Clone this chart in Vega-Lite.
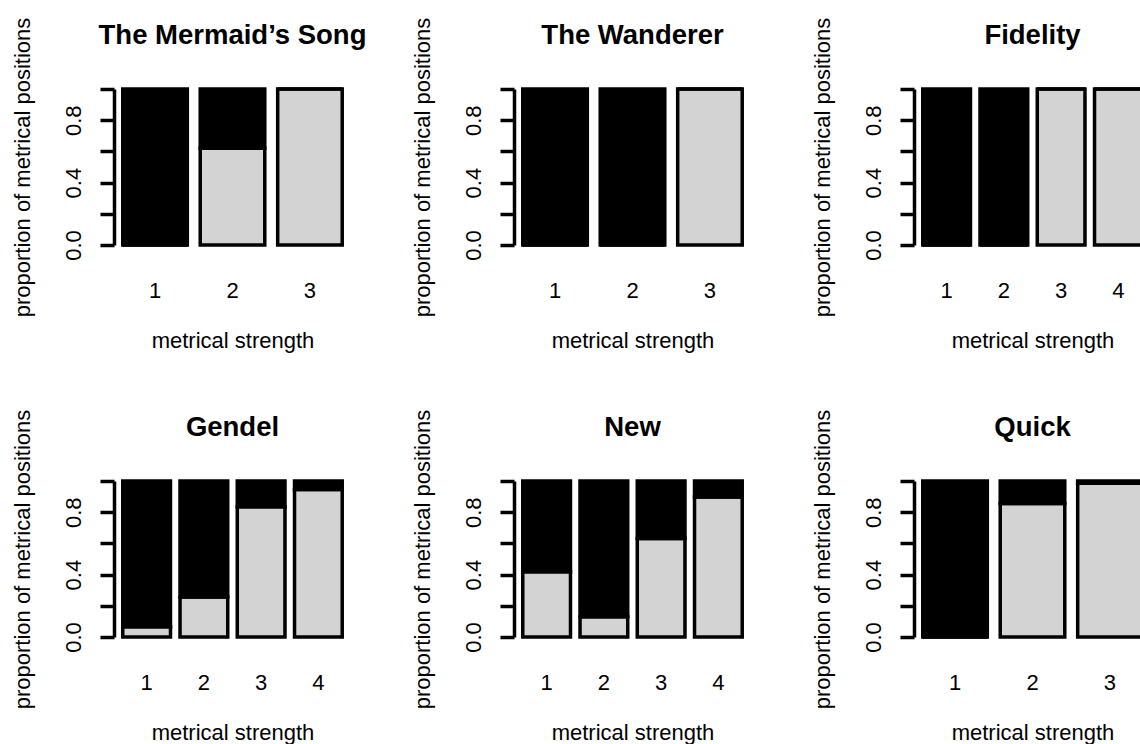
{
  "$schema": "https://vega.github.io/schema/vega-lite/v6.json",
  "autosize": {"type": "none"},
  "padding": {"left": 114, "top": 89, "right": 1026, "bottom": 655},
  "background": "white",
  "columns": 3,
  "bounds": "flush",
  "spacing": {"row": 236, "column": 163},
  "config": {
    "font": "Liberation Sans",
    "view": {"stroke": null},
    "title": {"fontSize": 27.5, "fontWeight": "bold", "color": "#000000", "anchor": "middle", "frame": "group", "baseline": "alphabetic", "offset": 42, "dy": 74},
    "axis": {"labelColor": "#000000", "titleColor": "#000000", "labelFontSize": 22, "titleFontSize": 22, "titleFontWeight": "normal", "grid": false}
  },
  "data": {"values": [
    {"song": "The Mermaid’s Song", "strength": "1", "group": "A", "prop": 0.0},
    {"song": "The Mermaid’s Song", "strength": "1", "group": "B", "prop": 1.0},
    {"song": "The Mermaid’s Song", "strength": "2", "group": "A", "prop": 0.62},
    {"song": "The Mermaid’s Song", "strength": "2", "group": "B", "prop": 0.38},
    {"song": "The Mermaid’s Song", "strength": "3", "group": "A", "prop": 1.0},
    {"song": "The Mermaid’s Song", "strength": "3", "group": "B", "prop": 0.0},
    {"song": "The Wanderer", "strength": "1", "group": "A", "prop": 0.0},
    {"song": "The Wanderer", "strength": "1", "group": "B", "prop": 1.0},
    {"song": "The Wanderer", "strength": "2", "group": "A", "prop": 0.0},
    {"song": "The Wanderer", "strength": "2", "group": "B", "prop": 1.0},
    {"song": "The Wanderer", "strength": "3", "group": "A", "prop": 1.0},
    {"song": "The Wanderer", "strength": "3", "group": "B", "prop": 0.0},
    {"song": "Fidelity", "strength": "1", "group": "A", "prop": 0.0},
    {"song": "Fidelity", "strength": "1", "group": "B", "prop": 1.0},
    {"song": "Fidelity", "strength": "2", "group": "A", "prop": 0.0},
    {"song": "Fidelity", "strength": "2", "group": "B", "prop": 1.0},
    {"song": "Fidelity", "strength": "3", "group": "A", "prop": 1.0},
    {"song": "Fidelity", "strength": "3", "group": "B", "prop": 0.0},
    {"song": "Fidelity", "strength": "4", "group": "A", "prop": 1.0},
    {"song": "Fidelity", "strength": "4", "group": "B", "prop": 0.0},
    {"song": "Gendel", "strength": "1", "group": "A", "prop": 0.065},
    {"song": "Gendel", "strength": "1", "group": "B", "prop": 0.935},
    {"song": "Gendel", "strength": "2", "group": "A", "prop": 0.257},
    {"song": "Gendel", "strength": "2", "group": "B", "prop": 0.743},
    {"song": "Gendel", "strength": "3", "group": "A", "prop": 0.835},
    {"song": "Gendel", "strength": "3", "group": "B", "prop": 0.165},
    {"song": "Gendel", "strength": "4", "group": "A", "prop": 0.945},
    {"song": "Gendel", "strength": "4", "group": "B", "prop": 0.055},
    {"song": "New", "strength": "1", "group": "A", "prop": 0.418},
    {"song": "New", "strength": "1", "group": "B", "prop": 0.582},
    {"song": "New", "strength": "2", "group": "A", "prop": 0.13},
    {"song": "New", "strength": "2", "group": "B", "prop": 0.87},
    {"song": "New", "strength": "3", "group": "A", "prop": 0.632},
    {"song": "New", "strength": "3", "group": "B", "prop": 0.368},
    {"song": "New", "strength": "4", "group": "A", "prop": 0.897},
    {"song": "New", "strength": "4", "group": "B", "prop": 0.103},
    {"song": "Quick", "strength": "1", "group": "A", "prop": 0.0},
    {"song": "Quick", "strength": "1", "group": "B", "prop": 1.0},
    {"song": "Quick", "strength": "2", "group": "A", "prop": 0.856},
    {"song": "Quick", "strength": "2", "group": "B", "prop": 0.144},
    {"song": "Quick", "strength": "3", "group": "A", "prop": 0.985},
    {"song": "Quick", "strength": "3", "group": "B", "prop": 0.015}
  ]},
  "concat": [
    {
      "title": "The Mermaid’s Song",
      "width": 237, "height": 156,
      "transform": [{"filter": {"field": "song", "equal": "The Mermaid’s Song"}}],
      "mark": {"type": "bar", "stroke": "#000000", "strokeWidth": 3.5},
      "encoding": {
        "x": {"field": "strength", "type": "nominal", "sort": "ascending", "scale": {"paddingInner": 0.1667, "paddingOuter": 0.1133}, "axis": {"domain": false, "ticks": false, "tickSize": 0, "labelAngle": 0, "labelPadding": 35, "title": "metrical strength", "titlePadding": 29}},
        "y": {"field": "prop", "type": "quantitative", "stack": "zero", "scale": {"domain": [0, 1], "nice": false}, "axis": {"values": [0, 0.2, 0.4, 0.6, 0.8, 1], "labelExpr": "(abs(datum.value) < 0.01 || abs(datum.value - 0.4) < 0.01 || abs(datum.value - 0.8) < 0.01) ? format(datum.value, '.1f') : ''", "domain": true, "domainColor": "#000000", "domainWidth": 3.5, "tickColor": "#000000", "tickWidth": 3.5, "tickSize": 14, "labelAngle": 270, "labelPadding": 15, "labelFlush": false, "labelOverlap": false, "title": "proportion of metrical positions", "titlePadding": 28}},
        "color": {"field": "group", "type": "nominal", "scale": {"domain": ["A", "B"], "range": ["#d3d3d3", "#000000"]}, "legend": null},
        "order": {"field": "group", "sort": "ascending"}
      }
    },
    {
      "title": "The Wanderer",
      "width": 237, "height": 156,
      "transform": [{"filter": {"field": "song", "equal": "The Wanderer"}}],
      "mark": {"type": "bar", "stroke": "#000000", "strokeWidth": 3.5},
      "encoding": {
        "x": {"field": "strength", "type": "nominal", "sort": "ascending", "scale": {"paddingInner": 0.1667, "paddingOuter": 0.1133}, "axis": {"domain": false, "ticks": false, "tickSize": 0, "labelAngle": 0, "labelPadding": 35, "title": "metrical strength", "titlePadding": 29}},
        "y": {"field": "prop", "type": "quantitative", "stack": "zero", "scale": {"domain": [0, 1], "nice": false}, "axis": {"values": [0, 0.2, 0.4, 0.6, 0.8, 1], "labelExpr": "(abs(datum.value) < 0.01 || abs(datum.value - 0.4) < 0.01 || abs(datum.value - 0.8) < 0.01) ? format(datum.value, '.1f') : ''", "domain": true, "domainColor": "#000000", "domainWidth": 3.5, "tickColor": "#000000", "tickWidth": 3.5, "tickSize": 14, "labelAngle": 270, "labelPadding": 15, "labelFlush": false, "labelOverlap": false, "title": "proportion of metrical positions", "titlePadding": 28}},
        "color": {"field": "group", "type": "nominal", "scale": {"domain": ["A", "B"], "range": ["#d3d3d3", "#000000"]}, "legend": null},
        "order": {"field": "group", "sort": "ascending"}
      }
    },
    {
      "title": "Fidelity",
      "width": 237, "height": 156,
      "transform": [{"filter": {"field": "song", "equal": "Fidelity"}}],
      "mark": {"type": "bar", "stroke": "#000000", "strokeWidth": 3.5},
      "encoding": {
        "x": {"field": "strength", "type": "nominal", "sort": "ascending", "scale": {"paddingInner": 0.1667, "paddingOuter": 0.1533}, "axis": {"domain": false, "ticks": false, "tickSize": 0, "labelAngle": 0, "labelPadding": 35, "title": "metrical strength", "titlePadding": 29}},
        "y": {"field": "prop", "type": "quantitative", "stack": "zero", "scale": {"domain": [0, 1], "nice": false}, "axis": {"values": [0, 0.2, 0.4, 0.6, 0.8, 1], "labelExpr": "(abs(datum.value) < 0.01 || abs(datum.value - 0.4) < 0.01 || abs(datum.value - 0.8) < 0.01) ? format(datum.value, '.1f') : ''", "domain": true, "domainColor": "#000000", "domainWidth": 3.5, "tickColor": "#000000", "tickWidth": 3.5, "tickSize": 14, "labelAngle": 270, "labelPadding": 15, "labelFlush": false, "labelOverlap": false, "title": "proportion of metrical positions", "titlePadding": 28}},
        "color": {"field": "group", "type": "nominal", "scale": {"domain": ["A", "B"], "range": ["#d3d3d3", "#000000"]}, "legend": null},
        "order": {"field": "group", "sort": "ascending"}
      }
    },
    {
      "title": "Gendel",
      "width": 237, "height": 156,
      "transform": [{"filter": {"field": "song", "equal": "Gendel"}}],
      "mark": {"type": "bar", "stroke": "#000000", "strokeWidth": 3.5},
      "encoding": {
        "x": {"field": "strength", "type": "nominal", "sort": "ascending", "scale": {"paddingInner": 0.1667, "paddingOuter": 0.1533}, "axis": {"domain": false, "ticks": false, "tickSize": 0, "labelAngle": 0, "labelPadding": 35, "title": "metrical strength", "titlePadding": 29}},
        "y": {"field": "prop", "type": "quantitative", "stack": "zero", "scale": {"domain": [0, 1], "nice": false}, "axis": {"values": [0, 0.2, 0.4, 0.6, 0.8, 1], "labelExpr": "(abs(datum.value) < 0.01 || abs(datum.value - 0.4) < 0.01 || abs(datum.value - 0.8) < 0.01) ? format(datum.value, '.1f') : ''", "domain": true, "domainColor": "#000000", "domainWidth": 3.5, "tickColor": "#000000", "tickWidth": 3.5, "tickSize": 14, "labelAngle": 270, "labelPadding": 15, "labelFlush": false, "labelOverlap": false, "title": "proportion of metrical positions", "titlePadding": 28}},
        "color": {"field": "group", "type": "nominal", "scale": {"domain": ["A", "B"], "range": ["#d3d3d3", "#000000"]}, "legend": null},
        "order": {"field": "group", "sort": "ascending"}
      }
    },
    {
      "title": "New",
      "width": 237, "height": 156,
      "transform": [{"filter": {"field": "song", "equal": "New"}}],
      "mark": {"type": "bar", "stroke": "#000000", "strokeWidth": 3.5},
      "encoding": {
        "x": {"field": "strength", "type": "nominal", "sort": "ascending", "scale": {"paddingInner": 0.1667, "paddingOuter": 0.1533}, "axis": {"domain": false, "ticks": false, "tickSize": 0, "labelAngle": 0, "labelPadding": 35, "title": "metrical strength", "titlePadding": 29}},
        "y": {"field": "prop", "type": "quantitative", "stack": "zero", "scale": {"domain": [0, 1], "nice": false}, "axis": {"values": [0, 0.2, 0.4, 0.6, 0.8, 1], "labelExpr": "(abs(datum.value) < 0.01 || abs(datum.value - 0.4) < 0.01 || abs(datum.value - 0.8) < 0.01) ? format(datum.value, '.1f') : ''", "domain": true, "domainColor": "#000000", "domainWidth": 3.5, "tickColor": "#000000", "tickWidth": 3.5, "tickSize": 14, "labelAngle": 270, "labelPadding": 15, "labelFlush": false, "labelOverlap": false, "title": "proportion of metrical positions", "titlePadding": 28}},
        "color": {"field": "group", "type": "nominal", "scale": {"domain": ["A", "B"], "range": ["#d3d3d3", "#000000"]}, "legend": null},
        "order": {"field": "group", "sort": "ascending"}
      }
    },
    {
      "title": "Quick",
      "width": 237, "height": 156,
      "transform": [{"filter": {"field": "song", "equal": "Quick"}}],
      "mark": {"type": "bar", "stroke": "#000000", "strokeWidth": 3.5},
      "encoding": {
        "x": {"field": "strength", "type": "nominal", "sort": "ascending", "scale": {"paddingInner": 0.1667, "paddingOuter": 0.1133}, "axis": {"domain": false, "ticks": false, "tickSize": 0, "labelAngle": 0, "labelPadding": 35, "title": "metrical strength", "titlePadding": 29}},
        "y": {"field": "prop", "type": "quantitative", "stack": "zero", "scale": {"domain": [0, 1], "nice": false}, "axis": {"values": [0, 0.2, 0.4, 0.6, 0.8, 1], "labelExpr": "(abs(datum.value) < 0.01 || abs(datum.value - 0.4) < 0.01 || abs(datum.value - 0.8) < 0.01) ? format(datum.value, '.1f') : ''", "domain": true, "domainColor": "#000000", "domainWidth": 3.5, "tickColor": "#000000", "tickWidth": 3.5, "tickSize": 14, "labelAngle": 270, "labelPadding": 15, "labelFlush": false, "labelOverlap": false, "title": "proportion of metrical positions", "titlePadding": 28}},
        "color": {"field": "group", "type": "nominal", "scale": {"domain": ["A", "B"], "range": ["#d3d3d3", "#000000"]}, "legend": null},
        "order": {"field": "group", "sort": "ascending"}
      }
    }
  ]
}
